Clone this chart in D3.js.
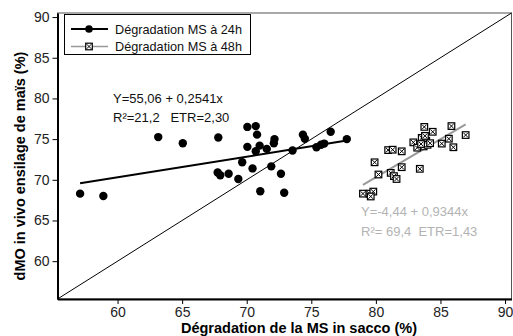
<!DOCTYPE html>
<html>
<head>
<meta charset="utf-8">
<script src="https://cdn.jsdelivr.net/npm/d3@7"></script>
<style>
  body { margin: 0; background: #fff; }
  svg { display: block; font-family: "Liberation Sans", Arial, sans-serif; }
</style>
</head>
<body>
<svg width="513" height="336"></svg>
<script>
  // MS degradation after 24h (x) vs in vivo dMO (y)
  var x24 = [57.1, 58.9, 63.15, 65.05, 67.8, 67.75, 67.95, 68.6, 69.35, 69.65, 70.05, 70.7, 70.8, 70.05, 71.0, 70.7,
             71.55, 70.45, 71.9, 72.15, 72.1, 72.65, 71.05, 72.9, 73.55, 74.35, 74.5, 75.4, 75.75, 76.0, 76.5, 77.75];
  var y24 = [68.3, 68.0, 75.25, 74.5, 75.2, 70.9, 70.55, 70.75, 70.1, 72.15, 76.5, 76.6, 75.55, 74.05, 74.2, 73.5,
             73.8, 71.4, 71.65, 75.0, 74.5, 70.75, 68.6, 68.4, 73.6, 75.55, 75.05, 74.0, 74.3, 74.45, 75.9, 75.0];

  // MS degradation after 48h
  var x48 = [79.0, 79.5, 79.8, 79.6, 79.9, 80.2, 80.95, 81.3, 82.0, 81.15, 81.4, 81.6, 82.0, 83.4, 82.9,
             83.2, 83.55, 83.75, 84.4, 83.7, 83.9, 84.0, 84.2, 83.5, 83.8, 85.1, 85.65, 85.85, 86.0, 86.95];
  var y48 = [68.3, 68.3, 68.55, 67.95, 72.15, 70.65, 73.65, 73.7, 73.5, 70.85, 70.45, 70.1, 71.55, 71.35, 74.6,
             73.95, 75.15, 76.5, 75.9, 74.1, 74.8, 74.3, 74.5, 74.4, 75.4, 74.45, 75.05, 76.6, 74.0, 75.5];

  var ticks = [60, 65, 70, 75, 80, 85, 90];
  var fit24 = { a: 55.06, b: 0.2541 };
  var fit48 = { a: -4.44, b: 0.9344 };
  var seriesNames = ["Dégradation MS à 24h", "Dégradation MS à 48h"];

(function (d3) {
  'use strict';

  var svg = d3.select("svg");
  var pl = 57.5, pr = 511.5, pt = 13, pb = 299;
  var dom = [55.35, 90.5];

  var x = d3.scaleLinear().domain(dom).range([pl, pr]);
  var y = d3.scaleLinear().domain(dom).range([pb, pt]);

  // frame (top/right thin grey)
  svg.append("rect")
      .attr("x", pl).attr("y", pt)
      .attr("width", pr - pl).attr("height", pb - pt)
      .attr("fill", "none").attr("stroke", "#555").attr("stroke-width", 1);

  // y = x reference line
  svg.append("line")
      .attr("x1", x(dom[0])).attr("y1", y(dom[0]))
      .attr("x2", x(dom[1])).attr("y2", y(dom[1]))
      .attr("stroke", "#000").attr("stroke-width", 1);

  // axes
  var xAxis = svg.append("g")
      .attr("transform", "translate(0," + pb + ")")
      .call(d3.axisBottom(x).tickValues(ticks).tickSize(5).tickPadding(3).tickSizeOuter(0));
  var yAxis = svg.append("g")
      .attr("transform", "translate(" + pl + ",0)")
      .call(d3.axisLeft(y).tickValues(ticks).tickSize(5).tickPadding(3).tickSizeOuter(0));
  [xAxis, yAxis].forEach(function (g) {
    g.select(".domain").attr("stroke", "#000").attr("stroke-width", 2);
    g.selectAll(".tick line").attr("stroke", "#000");
    g.selectAll(".tick text").attr("fill", "#222")
        .style("font-family", "'Liberation Sans', Arial, sans-serif").style("font-size", "14px");
  });

  // regression lines
  function fitLine(xs, fit, color) {
    var x0 = d3.min(xs), x1 = d3.max(xs);
    svg.append("line")
        .attr("x1", x(x0)).attr("y1", y(fit.a + fit.b * x0))
        .attr("x2", x(x1)).attr("y2", y(fit.a + fit.b * x1))
        .attr("stroke", color).attr("stroke-width", 2);
  }
  fitLine(x24, fit24, "#000");
  fitLine(x48, fit48, "#999");

  // square-with-cross marker
  function crossBox(g, cx, cy) {
    var s = 3.3;
    g.append("rect").attr("x", cx - s).attr("y", cy - s).attr("width", 2 * s).attr("height", 2 * s)
        .attr("fill", "#fff").attr("stroke", "#000").attr("stroke-width", 1.2);
    g.append("path")
        .attr("d", "M" + (cx - s + 1) + "," + (cy - s + 1) + "L" + (cx + s - 1) + "," + (cy + s - 1) +
                   "M" + (cx + s - 1) + "," + (cy - s + 1) + "L" + (cx - s + 1) + "," + (cy + s - 1))
        .attr("stroke", "#000").attr("stroke-width", 1);
  }

  // 48h points
  var g48 = svg.append("g");
  x48.forEach(function (v, i) { crossBox(g48, x(v), y(y48[i])); });

  // 24h points
  svg.append("g").selectAll("circle")
      .data(x24)
      .enter()
      .append("circle")
      .attr("cx", function (d) { return x(d); })
      .attr("cy", function (d, i) { return y(y24[i]); })
      .attr("r", 4.2)
      .attr("fill", "#000");

  // equations
  svg.append("text").attr("x", 113).attr("y", 103).attr("font-size", 13).attr("fill", "#111")
      .text("Y=55,06 + 0,2541x");
  svg.append("text").attr("x", 113).attr("y", 122).attr("font-size", 13).attr("fill", "#111")
      .attr("xml:space", "preserve").text("R²=21,2   ETR=2,30");
  svg.append("text").attr("x", 361).attr("y", 216).attr("font-size", 13).attr("fill", "#b3b3b3")
      .text("Y=-4,44 + 0,9344x");
  svg.append("text").attr("x", 361).attr("y", 236).attr("font-size", 13).attr("fill", "#b3b3b3")
      .attr("xml:space", "preserve").text("R²= 69,4  ETR=1,43");

  // legend
  var lg = svg.append("g");
  lg.append("rect").attr("x", 64.5).attr("y", 14.5).attr("width", 186).attr("height", 40)
      .attr("fill", "#fff").attr("stroke", "#000").attr("stroke-width", 1);
  lg.append("line").attr("x1", 71).attr("x2", 108).attr("y1", 29).attr("y2", 29)
      .attr("stroke", "#000").attr("stroke-width", 2);
  lg.append("circle").attr("cx", 89).attr("cy", 29).attr("r", 3.8).attr("fill", "#000");
  lg.append("line").attr("x1", 71).attr("x2", 108).attr("y1", 46.5).attr("y2", 46.5)
      .attr("stroke", "#999").attr("stroke-width", 1.5);
  crossBox(lg, 89, 46.5);
  seriesNames.forEach(function (n, i) {
    lg.append("text").attr("x", 115).attr("y", 33.5 + i * 17.5).attr("font-size", 12.7).attr("fill", "#111").text(n);
  });

  // axis titles
  svg.append("text")
      .attr("x", 299).attr("y", 333)
      .attr("text-anchor", "middle").attr("font-size", 14.5).attr("font-weight", "bold")
      .text("Dégradation de la MS in sacco (%)");
  svg.append("text")
      .attr("transform", "translate(25,166) rotate(-90)")
      .attr("text-anchor", "middle").attr("font-size", 14.5).attr("font-weight", "bold")
      .text("dMO in vivo ensilage de maïs (%)");

}(d3));
</script>
</body>
</html>
